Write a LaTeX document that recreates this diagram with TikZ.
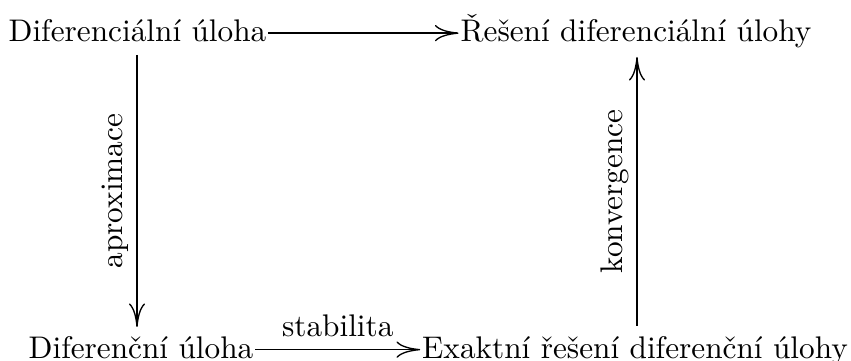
\documentclass[tikz,border=0pt]{standalone}
\usetikzlibrary{arrows.meta,calc}
\begin{document}
\begin{tikzpicture}[x=0.339pt,y=-0.339pt,
  lbl/.style={inner sep=0.5pt,font=\fontsize{10.6}{12.7}\selectfont},
  obj/.style={lbl,text height=8pt,text depth=2pt,anchor=base},
  arr/.style={->,>={To[length=8pt,width=5.5pt]},line width=0.45pt}]
\useasboundingbox (0,0) rectangle (851,361);
\node[obj] (A) at (137.5,42) {Diferenciální úloha};
\node[obj] (B) at (636,42) {Řešení diferenciální úlohy};
\node[obj] (C) at (141,358.5) {Diferenční úloha};
\node[obj] (D) at (635,358.5) {Exaktní řešení diferenční úlohy};
\coordinate (a1) at (137,55);
\coordinate (a2) at (137,327);
\coordinate (k1) at (637,326);
\coordinate (k2) at (637,57);
\draw[arr] (A.east) -- (B.west);
\draw[arr] (a1) -- (a2) node[midway,lbl,rotate=90,above=2pt] {aproximace};
\draw[arr] (C.east) -- node[lbl,above=3.5pt] {stabilita} (D.west);
\draw[arr] (k1) -- (k2) node[midway,lbl,rotate=90,above=2pt] {konvergence};
\end{tikzpicture}
\end{document}
